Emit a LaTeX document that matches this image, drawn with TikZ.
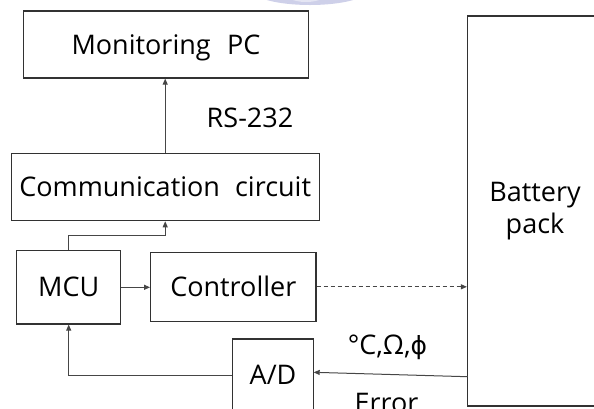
\documentclass[tikz,border=0pt]{standalone}
\usepackage{fontspec}
\setmainfont{Open Sans}
\newfontfamily\symfont{DejaVu Sans}
\usetikzlibrary{arrows.meta}
\definecolor{boxline}{RGB}{50,50,50}
\definecolor{conline}{RGB}{70,70,70}
\definecolor{wmark}{RGB}{206,208,233}
\definecolor{wmarkin}{RGB}{228,229,243}
\begin{document}
\begin{tikzpicture}[x=1pt,y=-1pt,
  blk/.style={draw=boxline,line width=1.2pt,inner sep=0pt,
    font=\fontsize{27}{32}\selectfont,text height=19pt,text depth=0pt},
  lbl/.style={inner sep=0pt,font=\fontsize{27}{32}\selectfont},
  arr/.style={draw=conline,line width=1pt,-{Triangle[length=6pt,width=5pt]}},
]
\useasboundingbox (0,0) rectangle (594,408);
\begin{scope}
\clip (0,0) rectangle (594,408);
% watermark fragment
\fill[wmark] (310,-10) ellipse [x radius=58, y radius=15];
\fill[wmarkin] (306,-10) ellipse [x radius=24, y radius=12];
\node[blk,minimum width=285pt,minimum height=67pt] (pc) at (166,44.5) {Monitoring\hspace{0.35em} PC};
\node[blk,minimum width=308pt,minimum height=67.4pt] (comm) at (165.2,187) {Communication\hspace{0.3em} circuit};
\node[blk,minimum width=104pt,minimum height=73.3pt] (mcu) at (68.7,287.3) {MCU};
\node[blk,minimum width=165.3pt,minimum height=69pt] (ctrl) at (233.3,286.8) {Controller};
\node[blk,minimum width=81.4pt,minimum height=72pt] (ad) at (273,375) {A/D};
\node[draw=boxline,line width=1.2pt,inner sep=0pt,minimum width=135pt,minimum height=390pt,
  align=center,font=\fontsize{27}{32}\selectfont] (bat) at (535,211) {Battery\\pack};
\node[lbl] (rs) at (250,118) {RS-232};
\node[lbl] (units) at (387.5,347) {°C,Ω,{\symfont\fontsize{25}{30}\selectfont ϕ}};
\node[lbl,anchor=base] (err) at (386.5,412) {Error};
\coordinate (bin) at (467.5,376.7);
\coordinate (adin) at (313.7,372.3);
\draw[arr] (comm.north) -- (comm.north |- pc.south);
\draw[arr] (mcu.north) -- ++(0,-15) -| (comm.south);
\draw[arr] (mcu.east) -- (mcu.east -| ctrl.west);
\draw[arr,dashed,dash pattern=on 4pt off 3pt] (ctrl.east) -- (ctrl.east -| bat.west);
\draw[arr] (bin) -- (adin);
\draw[arr] (ad.west) -| (mcu.south);
\end{scope}
\end{tikzpicture}
\end{document}
